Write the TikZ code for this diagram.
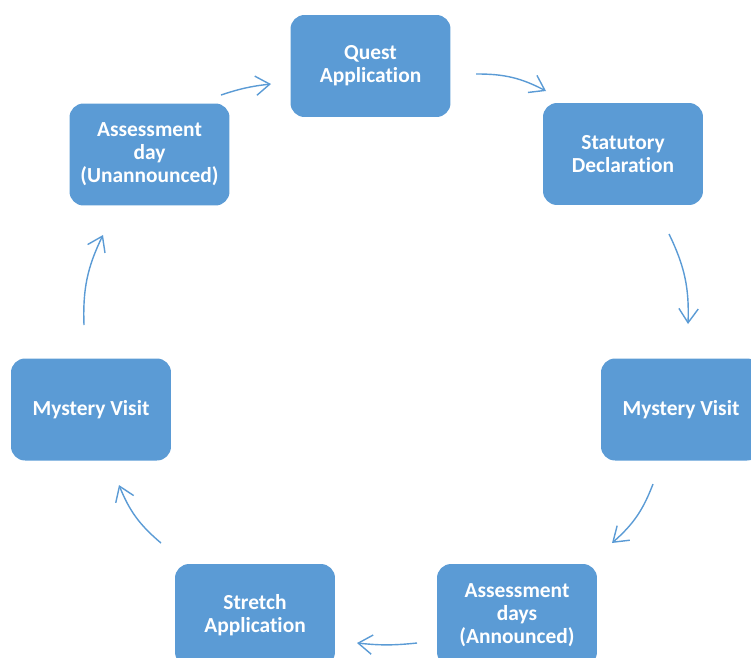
\documentclass[tikz,border=0pt]{standalone}
\usepackage{fontspec}
\setmainfont{Carlito}[Ligatures=NoCommon]
\usetikzlibrary{arrows.meta}
\definecolor{cycleblue}{HTML}{5B9BD5}
\tikzset{
  stagebox/.style={rectangle, rounded corners=0.28cm, fill=cycleblue, text=white,
    minimum width=3.2cm, minimum height=2.04cm, align=center,
    font=\fontsize{12.2}{13.1}\selectfont\bfseries},
  cyclearrow/.style={draw=cycleblue, line width=0.8pt, bend left=14,
    -{Straight Barb[length=8pt, width=11pt, line width=0.8pt]}}
}
\begin{document}
\begin{tikzpicture}[x=0.02cm, y=-0.02cm]

    % Page frame (pixels of the original)
    \useasboundingbox (0,0) rectangle (751,657);
    \clip (0,0) rectangle (751,657);

    % Stages of the cycle
    \node[stagebox] (quest)   at (370.5, 66)  {Quest\\Application};
    \node[stagebox] (statdec) at (623, 154)   {Statutory\\Declaration};
    \node[stagebox] (mysR)    at (681, 409.5) {Mystery Visit};
    \node[stagebox] (annday)  at (517, 615)   {Assessment\\days\\(Announced)};
    \node[stagebox] (stretch) at (255, 615)   {Stretch\\Application};
    \node[stagebox] (mysL)    at (91, 409.5)  {Mystery Visit};
    \node[stagebox] (unday)   at (149.5, 154.5) {Assessment\\day\\(Unannounced)};

    % Arrow end points
    \coordinate (s1) at (221, 95);  \coordinate (e1) at (271, 84);
    \coordinate (s2) at (476, 74);  \coordinate (e2) at (546, 91);
    \coordinate (s3) at (669, 234); \coordinate (e3) at (688, 324);
    \coordinate (s4) at (653, 484); \coordinate (e4) at (612, 543);
    \coordinate (s5) at (417, 643); \coordinate (e5) at (357, 643);
    \coordinate (s6) at (161, 543); \coordinate (e6) at (119, 485);
    \coordinate (s7) at (84, 325);  \coordinate (e7) at (103, 235);

    % Arrows going round
    \draw[cyclearrow, bend left=6] (s1) to (e1);
    \draw[cyclearrow] (s2) to (e2);
    \draw[cyclearrow] (s3) to (e3);
    \draw[cyclearrow] (s4) to (e4);
    \draw[cyclearrow, bend left=6] (s5) to (e5);
    \draw[cyclearrow] (s6) to (e6);
    \draw[cyclearrow] (s7) to (e7);

\end{tikzpicture}
\end{document}
